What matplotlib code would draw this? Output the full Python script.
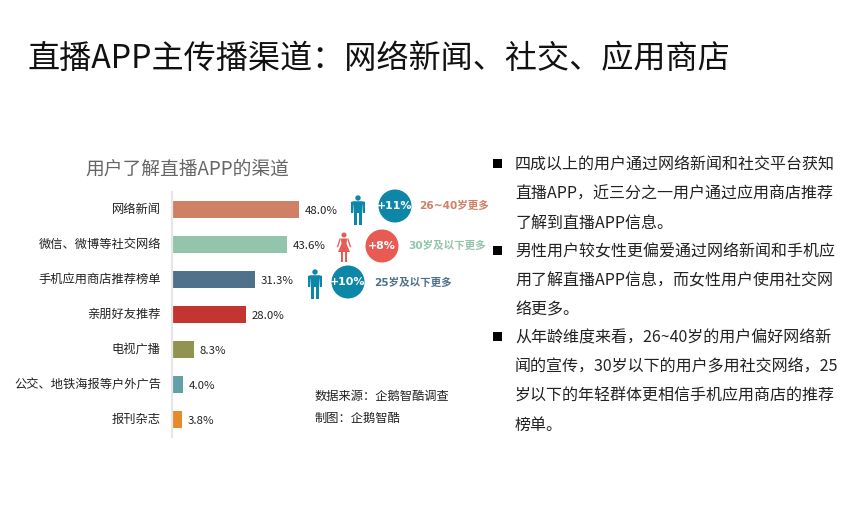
import matplotlib
matplotlib.use("Agg")
import matplotlib.pyplot as plt
from matplotlib.patches import Circle, Rectangle, Polygon, FancyBboxPatch
from matplotlib.transforms import ScaledTranslation

plt.rcParams['font.family'] = ['Noto Sans CJK SC', 'DejaVu Sans']

W, H = 853, 508

# ================= DATA =================

channels = ["网络新闻", "微信、微博等社交网络", "手机应用商店推荐榜单", "亲朋好友推荐",
            "电视广播", "公交、地铁海报等户外广告", "报刊杂志"]
shares = [48.0, 43.6, 31.3, 28.0, 8.3, 4.0, 3.8]
bar_colors = ["#d08064", "#93c5ac", "#4f718b", "#c23531", "#919350", "#61a0a8", "#e68b2c"]

title = "直播APP主传播渠道：网络新闻、社交、应用商店"
chart_title = "用户了解直播APP的渠道"
source_lines = ["数据来源：企鹅智酷调查", "制图：企鹅智酷"]

callout_pct = ["+11%", "+8%", "+10%"]
callout_text = ["26~40岁更多", "30岁及以下更多", "25岁及以下更多"]
callout_text_colors = ["#d08064", "#93c5ac", "#4f718b"]
callout_circle_colors = ["#0e86a8", "#e85a54", "#0e86a8"]
callout_icon = ["man", "woman", "man"]

paragraphs = [
    ["四成以上的用户通过网络新闻和社交平台获知", "直播APP，近三分之一用户通过应用商店推荐", "了解到直播APP信息。"],
    ["男性用户较女性更偏爱通过网络新闻和手机应", "用了解直播APP信息，而女性用户使用社交网", "络更多。"],
    ["从年龄维度来看，26~40岁的用户偏好网络新", "闻的宣传，30岁以下的用户多用社交网络，25", "岁以下的年轻群体更相信手机应用商店的推荐", "榜单。"],
]

# ================= FIGURE =================

fig = plt.figure(figsize=(W / 100, H / 100), dpi=100, facecolor="white")

# overlay in pixel coordinates for text and icons
bg = fig.add_axes([0, 0, 1, 1])
bg.set_xlim(0, W)
bg.set_ylim(H, 0)
bg.axis("off")

bg.text(28, 59, title, fontsize=23.15, color="#111111", va="center", ha="left")
bg.text(187, 169.5, chart_title, fontsize=13.5, color="#666666", va="center", ha="center")


# ================= BARS =================

left, right, top, bottom = 172, 472, 192, 437
ax = fig.add_axes([left / W, 1 - bottom / H, (right - left) / W, (bottom - top) / H])
ax.patch.set_alpha(0)
y = list(range(len(channels)))
ax.barh(y, shares, height=0.48, color=bar_colors)
ax.set_xlim(0, (right - left) / 2.64)
ax.set_ylim(len(channels) - 0.5, -0.5)
ax.set_yticks(y)
ax.set_yticklabels(channels, fontsize=8.8, color="#222222")
ax.tick_params(axis="y", length=0, pad=8)
ax.set_xticks([])
for s in ["top", "right", "bottom"]:
    ax.spines[s].set_visible(False)
ax.spines["left"].set_color("#e6e6e6")
ax.spines["left"].set_linewidth(1.6)

# tick labels sit a bit low with this font
up = ScaledTranslation(0, 1.5 / 100, fig.dpi_scale_trans)
for lab in ax.get_yticklabels():
    lab.set_transform(lab.get_transform() + up)

for i, v in enumerate(shares):
    ax.text(v + 2.2, i + 0.03, "%.1f%%" % v, fontsize=8.2, color="#222222", va="center", ha="left")


# ================= CALLOUTS =================

def draw_man(cx, cy, color):
    bg.add_patch(Circle((cx, cy - 12), 2.7, color=color, lw=0))
    bg.add_patch(Polygon([(cx - 5, cy - 8.5), (cx + 5, cy - 8.5), (cx + 4.2, cy + 3), (cx - 4.2, cy + 3)], color=color, lw=0))
    bg.add_patch(Rectangle((cx - 7, cy - 8), 1.8, 10.5, color=color, lw=0))
    bg.add_patch(Rectangle((cx + 5.2, cy - 8), 1.8, 10.5, color=color, lw=0))
    bg.add_patch(FancyBboxPatch((cx - 7, cy - 8.5), 14, 3, boxstyle="round,pad=0,rounding_size=1.4", color=color, lw=0))
    bg.add_patch(Rectangle((cx - 4.2, cy + 2), 3.6, 13, color=color, lw=0))
    bg.add_patch(Rectangle((cx + 0.6, cy + 2), 3.6, 13, color=color, lw=0))


def draw_woman(cx, cy, color):
    bg.add_patch(Circle((cx, cy - 12), 2.5, color=color, lw=0))
    bg.add_patch(Polygon([(cx - 3, cy - 8.5), (cx + 3, cy - 8.5), (cx + 2.6, cy - 3), (cx + 6, cy + 5),
                          (cx - 6, cy + 5), (cx - 2.6, cy - 3)], color=color, lw=0))
    bg.add_patch(Polygon([(cx - 3, cy - 8.5), (cx - 4.4, cy - 8.5), (cx - 7.2, cy), (cx - 6, cy + 0.5)], color=color, lw=0))
    bg.add_patch(Polygon([(cx + 3, cy - 8.5), (cx + 4.4, cy - 8.5), (cx + 7.2, cy), (cx + 6, cy + 0.5)], color=color, lw=0))
    bg.add_patch(Rectangle((cx - 3, cy + 5), 2.2, 9.5, color=color, lw=0))
    bg.add_patch(Rectangle((cx + 0.8, cy + 5), 2.2, 9.5, color=color, lw=0))


icon_x = [358, 344, 315]
icon_y = [210, 247, 284]
circle_x = [395, 382, 348]
circle_y = [206, 246, 282]
label_x = [419, 408, 374]
label_y = [205.5, 245.5, 282.5]
wide_font = ['DejaVu Sans', 'Noto Sans CJK SC']

for i in range(3):
    if callout_icon[i] == "man":
        draw_man(icon_x[i], icon_y[i], callout_circle_colors[0])
    else:
        draw_woman(icon_x[i], icon_y[i], callout_circle_colors[1])
    bg.add_patch(Circle((circle_x[i], circle_y[i]), 16.5, color=callout_circle_colors[i], lw=0))
    bg.text(circle_x[i], circle_y[i] + 0.3, callout_pct[i], fontsize=7.9, color="white", fontweight="bold",
            family=wide_font, va="center", ha="center")
    bg.text(label_x[i], label_y[i], callout_text[i], fontsize=7.6, color=callout_text_colors[i],
            fontweight="bold", family=wide_font, va="center", ha="left")

bg.text(315, 396.5, source_lines[0], fontsize=8.8, color="#222222", va="center", ha="left")
bg.text(315, 418.5, source_lines[1], fontsize=8.8, color="#222222", va="center", ha="left")


# ================= RIGHT TEXT =================

line_y = [165, 194, 223, 252, 281, 310, 338, 367, 396, 425]
bullet_y = [163, 250.5, 336]
n = 0
for b, para in zip(bullet_y, paragraphs):
    bg.add_patch(Rectangle((493.5, b - 4.5), 8.5, 9, color="black", lw=0))
    for line in para:
        bg.text(515, line_y[n], line, fontsize=11.5, color="#222222", va="center", ha="left")
        n += 1

fig.savefig("out.png", dpi=100)
